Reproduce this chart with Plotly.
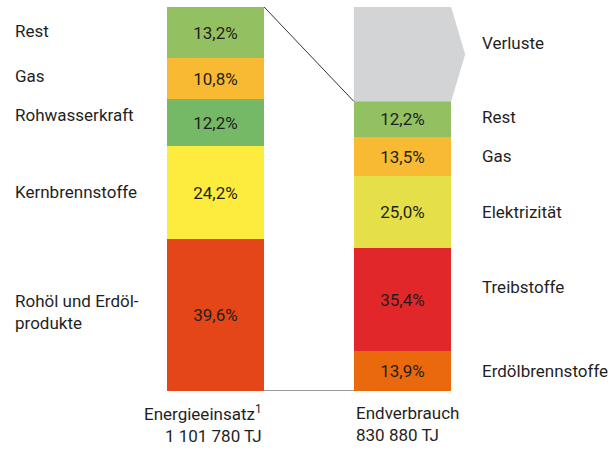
import plotly.graph_objects as go

# Energiefluss: Energieeinsatz vs. Endverbrauch
total_einsatz = 1101780
total_verbrauch = 830880

einsatz_labels = ["Rohöl und Erdöl-<br>produkte", "Kernbrennstoffe", "Rohwasserkraft", "Gas", "Rest"]
einsatz_pct = [39.6, 24.2, 12.2, 10.8, 13.2]
einsatz_colors = ["#e54618", "#fdeb3d", "#75b866", "#f9ba33", "#93c161"]

verbrauch_labels = ["Erdölbrennstoffe", "Treibstoffe", "Elektrizität", "Gas", "Rest"]
verbrauch_pct = [13.9, 35.4, 25.0, 13.5, 12.2]
verbrauch_colors = ["#ea690d", "#e2272a", "#e5df4a", "#f9ba33", "#93c161"]

FONT = "Roboto, sans-serif"
TXT = "#1f1f1f"
FS = 17
W = 0.52  # bar width


def pct_text(p):
    return f"{p:.1f}".replace(".", ",") + "%"


def tj_text(v):
    return f"{v:,}".replace(",", " ") + " TJ"


fig = go.Figure()

# label offsets (px) where the original labels are not centred on the segment
einsatz_shift = [3, 0, 8, 2, 1]
verbrauch_shift = [0, 12, 0, 0, 2]

annotations = []
for xpos, total, pcts, colors, labels, shifts, lx in [
    (0, total_einsatz, einsatz_pct, einsatz_colors, einsatz_labels, einsatz_shift, 13 / 615),
    (1, total_verbrauch, verbrauch_pct, verbrauch_colors, verbrauch_labels, verbrauch_shift, 480 / 615),
]:
    base = 0
    for p, c, lab, sh in zip(pcts, colors, labels, shifts):
        val = total * p / 100
        fig.add_trace(go.Bar(
            x=[xpos], y=[val], width=W, marker=dict(color=c, line=dict(width=0)),
            text=[pct_text(p)], textposition="inside", insidetextanchor="middle",
            textangle=0, textfont=dict(family=FONT, size=FS, color=TXT),
            hoverinfo="skip", showlegend=False))
        annotations.append(dict(
            x=lx, xref="paper", y=base + val / 2, yref="y", yshift=sh,
            text=lab, showarrow=False, xanchor="left", yanchor="middle", align="left",
            font=dict(family=FONT, size=FS, color=TXT)))
        base += val

# Verluste: grey arrow shape above the Endverbrauch bar
verluste = total_einsatz - total_verbrauch
fig.add_trace(go.Scatter(
    x=[1 - W / 2, 1 + W / 2, 1 + W / 2 + 0.075, 1 + W / 2, 1 - W / 2],
    y=[total_einsatz, total_einsatz, total_verbrauch + verluste / 2, total_verbrauch, total_verbrauch],
    fill="toself", fillcolor="#d3d4d6", mode="none",
    hoverinfo="skip", showlegend=False))
annotations.append(dict(
    x=480 / 615, xref="paper", y=total_verbrauch + verluste / 2, yref="y", yshift=11,
    text="Verluste", showarrow=False, xanchor="left", yanchor="middle",
    font=dict(family=FONT, size=FS, color=TXT)))

# connecting lines
fig.add_trace(go.Scatter(
    x=[W / 2, 1 - W / 2], y=[total_einsatz, total_verbrauch], mode="lines",
    line=dict(color="#333333", width=1), cliponaxis=False,
    hoverinfo="skip", showlegend=False))
fig.add_trace(go.Scatter(
    x=[W / 2, 1 - W / 2], y=[0, 0], mode="lines",
    line=dict(color="#333333", width=1.2), cliponaxis=False,
    hoverinfo="skip", showlegend=False))

# bottom captions
annotations.append(dict(
    x=W / 2, xref="x", y=0, yref="y", yshift=-9,
    text="Energieeinsatz<sup>1</sup><br>" + tj_text(total_einsatz),
    showarrow=False, xanchor="right", yanchor="top", align="right",
    font=dict(family=FONT, size=FS, color=TXT)))
annotations.append(dict(
    x=1 - W / 2, xref="x", y=0, yref="y", yshift=-10,
    text="Endverbrauch<br>" + tj_text(total_verbrauch),
    showarrow=False, xanchor="left", yanchor="top", align="left",
    font=dict(family=FONT, size=FS, color=TXT)))

fig.update_layout(
    width=615, height=450,
    barmode="stack", bargap=0,
    margin=dict(l=0, r=0, t=7, b=59),
    paper_bgcolor="white", plot_bgcolor="white",
    annotations=annotations,
)
fig.update_xaxes(range=[-215.5 / 187, -215.5 / 187 + 615 / 187], visible=False, fixedrange=True)
fig.update_yaxes(range=[0, total_einsatz], visible=False, fixedrange=True)

fig.write_html("out.html", config={"displayModeBar": False},
               post_script="document.body.style.margin='0';")
